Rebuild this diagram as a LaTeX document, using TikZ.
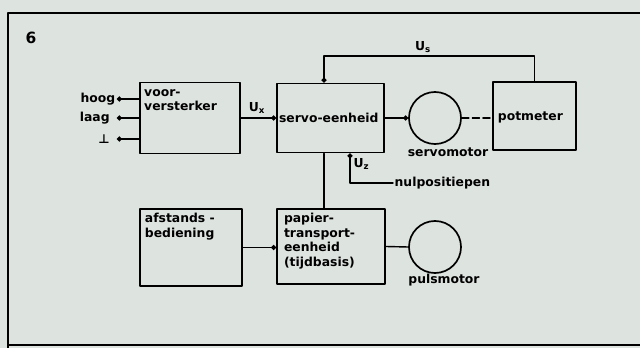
\documentclass[tikz,border=0pt]{standalone}
\usepackage{fontspec}
\setmainfont{DejaVu Sans}
\usetikzlibrary{arrows.meta}
\definecolor{achtergrond}{RGB}{221,227,223}

\begin{document}
\begin{tikzpicture}[x=0.025cm,y=-0.025cm,line cap=round,line join=round,
    blok/.style={draw,line width=1.4pt,inner sep=0pt},
    motor/.style={draw,circle,line width=1.2pt,minimum size=1.3cm,inner sep=0pt},
    tekst/.style={inner sep=1pt,align=left,font=\fontsize{8.8}{10.3}\selectfont\bfseries},
    lijn/.style={line width=1pt},
    pijl/.style={lijn,-{Circle[length=3.5pt]}}]
    \fill[achtergrond] (0,0) rectangle (640,348);
    \useasboundingbox (0,0) rectangle (640,348);
    %% kader
    \draw[line width=1.2pt] (640,13) -- (8,13) -- (8,348);
    \draw[line width=1.2pt] (8,345) -- (640,345);
    \node[font=\fontsize{11}{12}\selectfont\bfseries] (nr) at (31,38) {6};
    %% blokken
    \node[blok,minimum width=2.5cm,minimum height=1.775cm] (vv) at (190,118) {};
    \node[blok,minimum width=2.675cm,minimum height=1.725cm] (servo) at (330.5,118) {};
    \node[blok,minimum width=2.075cm,minimum height=1.7cm] (pot) at (534.5,116) {};
    \node[blok,minimum width=2.55cm,minimum height=1.925cm] (afst) at (191,247.5) {};
    \node[blok,minimum width=2.7cm,minimum height=1.875cm] (papier) at (331,246.5) {};
    \node[motor] (smotor) at (435,118) {};
    \node[motor] (pmotor) at (435,247) {};
    %% teksten in de blokken
    \node[tekst,anchor=north west] at ([xshift=2.5pt,yshift=-2pt]vv.north west) {\strut voor-\\versterker};
    \node[tekst,anchor=west] at ([xshift=1pt]servo.west) {servo-eenheid};
    \node[tekst,anchor=west] at ([xshift=3pt,yshift=-1pt]pot.west) {potmeter};
    \node[tekst,anchor=north west] at ([xshift=3pt,yshift=-2pt]afst.north west) {\strut afstands -\\bediening};
    \node[tekst,anchor=north west] at ([xshift=4.5pt,yshift=-2pt]papier.north west) {\strut papier-\\transport-\\eenheid\\(tijdbasis)};
    \node[tekst] (lsmotor) at (448,152) {servomotor};
    \node[tekst] (lpmotor) at (444,280) {pulsmotor};
    %% ingangen
    \coordinate (inhoog) at (117,99);
    \coordinate (inlaag) at (117,118);
    \coordinate (inaarde) at (117,139);
    \node[tekst,anchor=east] (hoog) at (inhoog) {hoog};
    \node[tekst,anchor=east] (laag) at ([xshift=-4pt]inlaag) {laag};
    \node[tekst,anchor=east] (aarde) at ([xshift=-4pt]inaarde) {⊥};
    \draw[lijn,{Circle[length=3.5pt]}-] (inhoog) -- (inhoog -| vv.west);
    \draw[lijn,{Circle[length=3.5pt]}-] (inlaag) -- (inlaag -| vv.west);
    \draw[lijn,{Circle[length=3.5pt]}-] (inaarde) -- (inaarde -| vv.west);
    %% verbindingen
    \draw[pijl] (vv.east) -- (vv.east -| servo.west);
    \node[tekst] (ux) at (257,108) {U\textsubscript{x}};
    \draw[pijl] (servo.east) -- (smotor.west);
    \draw[lijn,dash pattern=on 5pt off 2.5pt] (smotor.east) -- (smotor.east -| pot.west);
    \coordinate (us) at (324,56);
    \draw[pijl] (pot.north) |- (us) -- (us |- servo.north);
    \node[tekst] (uslabel) at (423,47) {U\textsubscript{s}};
    \draw[lijn] (us |- servo.south) -- (us |- papier.north);
    \coordinate (nul) at (393,183);
    \coordinate (uz) at (350,183);
    \node[tekst,anchor=west] (nulpos) at (nul) {nulpositiepen};
    \draw[pijl] (nul) -- (uz) -- (uz |- servo.south);
    \node[tekst,anchor=west] (uzlabel) at (352,164) {U\textsubscript{z}};
    \draw[pijl] (afst.east) -- (afst.east -| papier.west);
    \draw[lijn] (papier.east) -- (pmotor.west);
\end{tikzpicture}
\end{document}
